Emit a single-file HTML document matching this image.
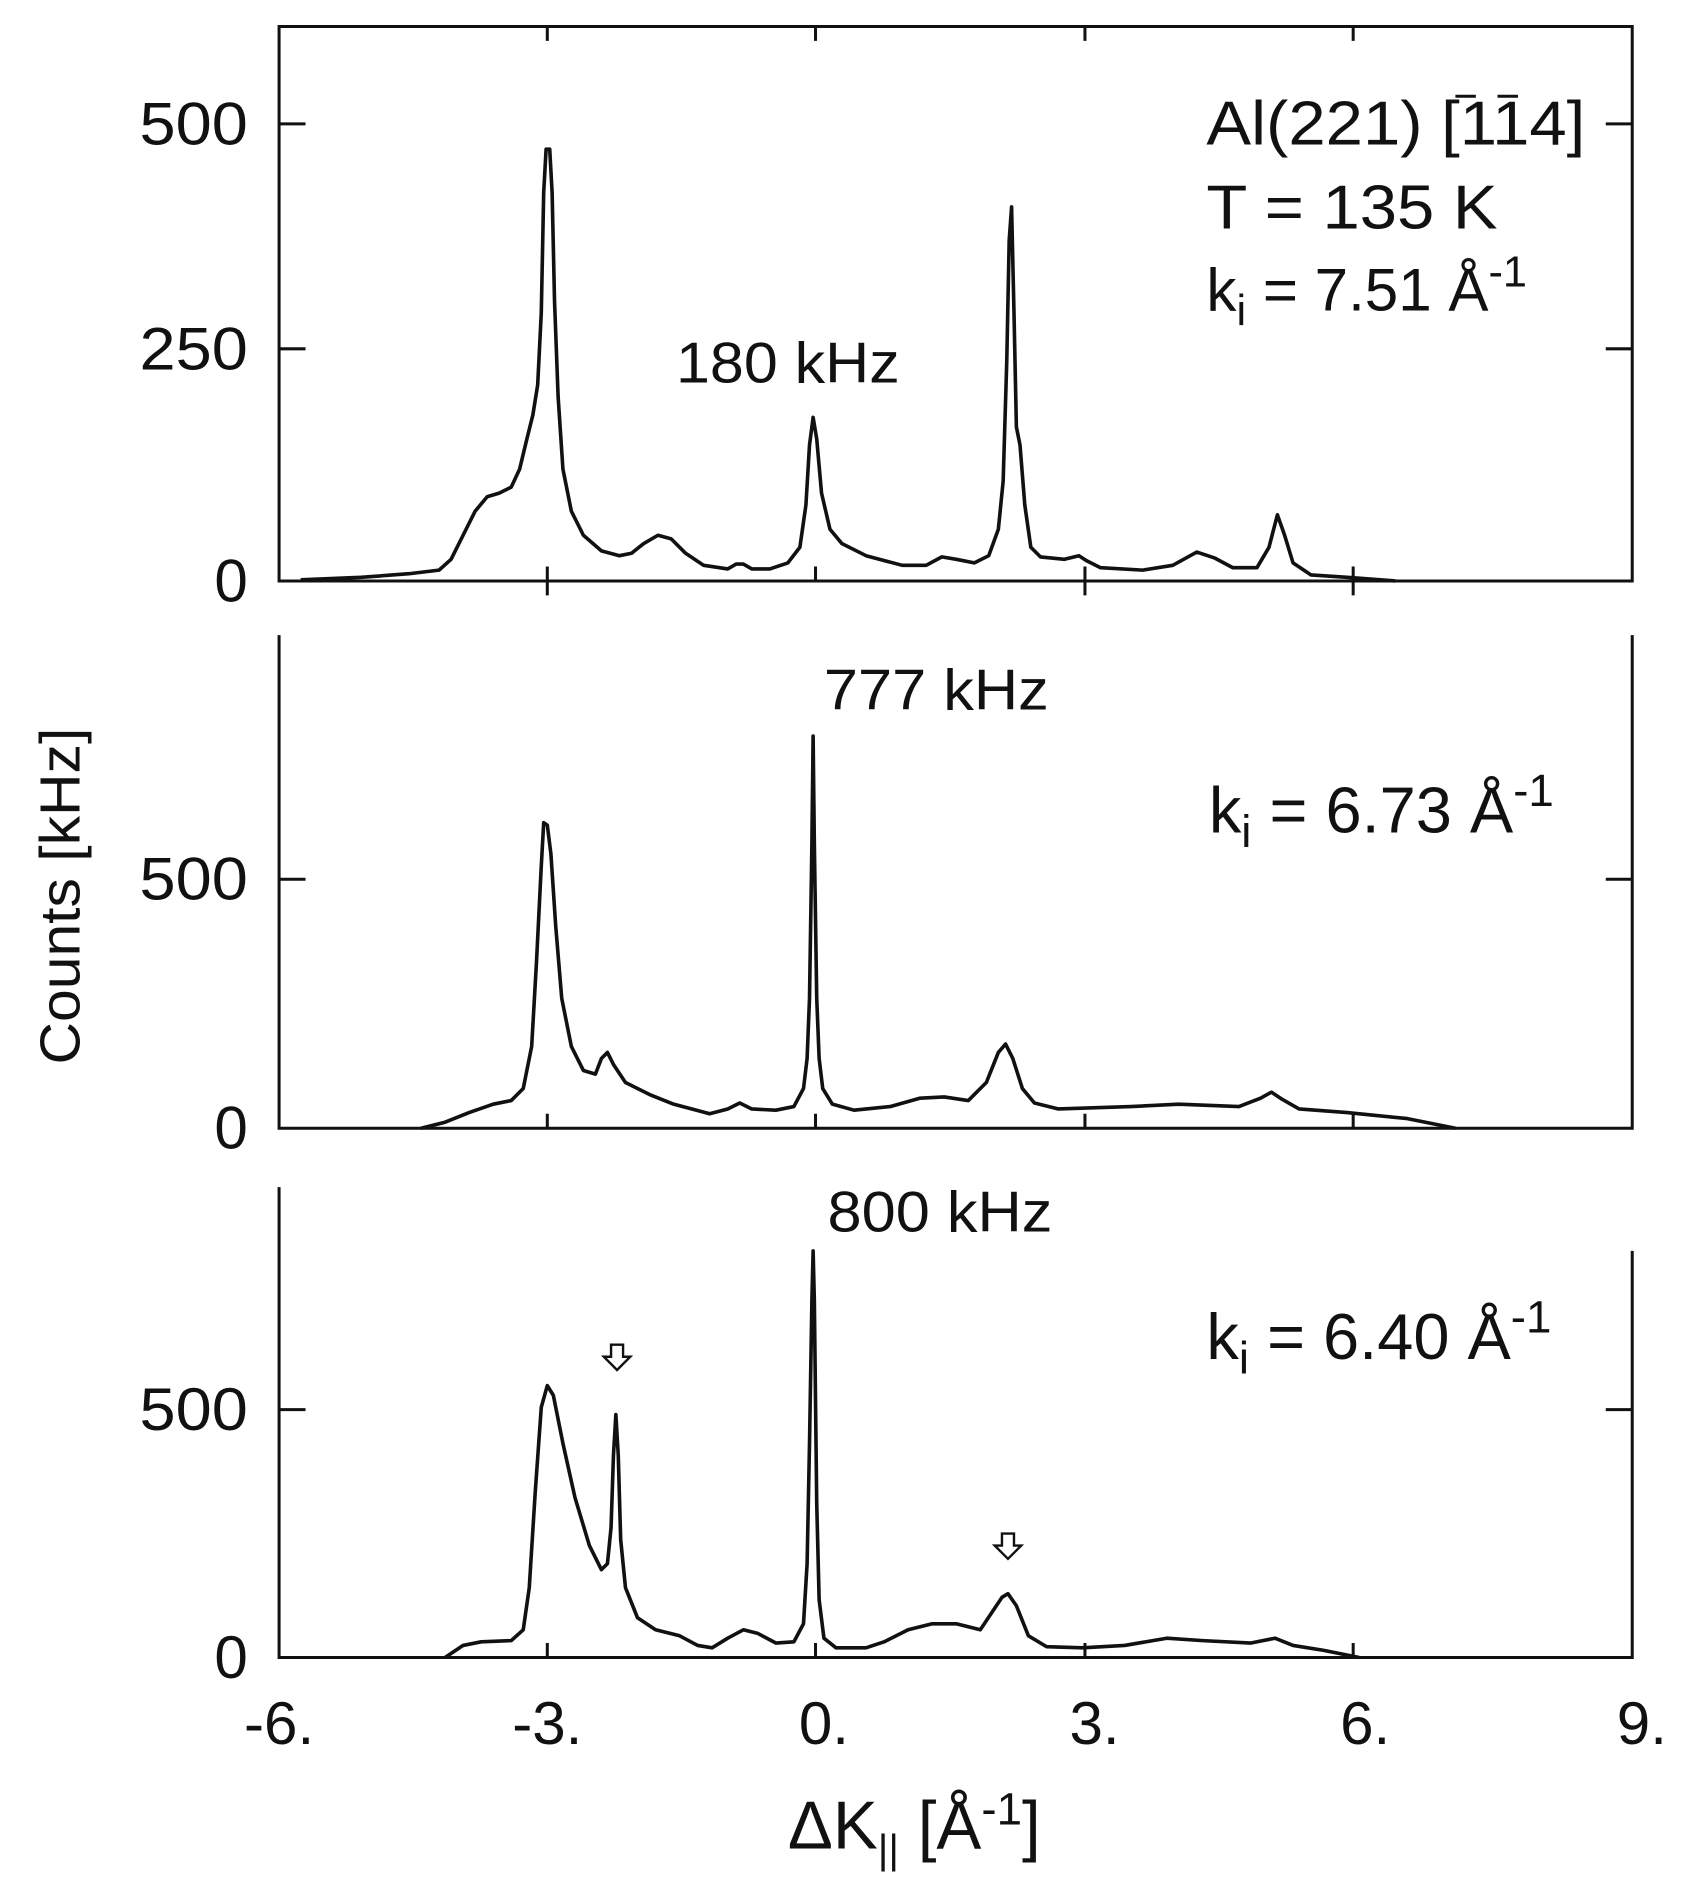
<!DOCTYPE html>
<html><head><meta charset="utf-8"><style>html,body{margin:0;padding:0;background:#fff}svg{display:block}text{font-family:"Liberation Sans",Arial,sans-serif;fill:#111}</style></head>
<body>
<svg width="1696" height="1889" viewBox="0 0 1410 1570.5" xmlns="http://www.w3.org/2000/svg">
<g stroke="#111" stroke-width="2.5" fill="none">
<path d="M232 22 H1357 V483 H232 Z"/>
<path d="M232 528 V938 H1357 V528"/>
<path d="M232 987 V1378 H1357 V1040"/>
<path d="M455 22v12M678 22v12M902 22v12M1125 22v12"/>
<path d="M455 483v12M902 483v12M1125 483v12M455 483v-12M678 483v-12M902 483v-12M1125 483v-12"/>
<path d="M455 938v-12M678 938v-12M902 938v-12M1125 938v-12"/>
<path d="M455 1378v-12M678 1378v-12M902 1378v-12M1125 1378v-12"/>
<path d="M232 103h22M232 290h22M1357 290h-22M1357 103h-22"/>
<path d="M232 731h22M1357 731h-22"/>
<path d="M232 1172h22M1357 1172h-22"/>
</g>
<g stroke="#111" stroke-width="3" fill="none" stroke-linejoin="round">
<path d="M250 482 L300 480 L340 477 L365 474 L375 465 L385 445 L395 425 L405 413 L415 410 L425 405 L432 390 L438 365 L443 345 L447 320 L450 260 L452 160 L454 124 L457 124 L459 160 L461 250 L464 330 L468 390 L475 425 L485 445 L500 458 L515 462 L525 460 L535 452 L547 445 L558 448 L570 460 L585 470 L605 473 L612 469 L618 469 L625 473 L640 473 L655 468 L665 455 L670 420 L673 370 L676 347 L679 365 L683 410 L690 440 L700 452 L720 462 L750 470 L770 470 L783 463 L795 465 L810 468 L822 462 L830 440 L834 400 L837 300 L839 200 L841 172 L843 260 L845 355 L848 370 L852 420 L857 455 L865 463 L885 465 L897 462 L903 466 L915 472 L950 474 L975 470 L995 459 L1010 464 L1025 472 L1045 472 L1055 455 L1062 428 L1068 445 L1075 468 L1090 478 L1120 480 L1160 483"/>
<path d="M350 938 L370 933 L390 925 L410 918 L425 915 L435 905 L442 870 L446 800 L450 720 L452 684 L455 686 L458 710 L462 770 L467 830 L475 870 L485 890 L495 893 L500 880 L505 875 L510 885 L520 900 L540 910 L560 918 L590 926 L605 922 L615 917 L625 922 L645 923 L660 920 L668 905 L671 880 L673 830 L675 700 L676 612 L677 700 L679 830 L681 880 L684 905 L692 918 L710 923 L740 920 L765 913 L785 912 L805 915 L820 900 L830 875 L836 868 L842 880 L850 905 L860 917 L880 922 L940 920 L980 918 L1030 920 L1048 913 L1057 908 L1066 914 L1080 922 L1120 925 L1170 930 L1210 938"/>
<path d="M370 1378 L385 1368 L400 1365 L425 1364 L435 1355 L440 1320 L445 1240 L450 1170 L455 1152 L460 1160 L468 1200 L478 1245 L490 1285 L500 1305 L505 1300 L508 1270 L510 1210 L512 1176 L514 1210 L516 1280 L520 1320 L530 1345 L545 1355 L565 1360 L580 1368 L592 1370 L605 1362 L618 1355 L630 1358 L645 1366 L660 1365 L668 1350 L671 1300 L673 1200 L675 1080 L676 1040 L677 1080 L679 1250 L681 1330 L685 1362 L695 1370 L720 1370 L735 1365 L755 1355 L775 1350 L795 1350 L815 1355 L825 1340 L833 1328 L838 1325 L845 1335 L855 1360 L870 1369 L900 1370 L935 1368 L970 1362 L1000 1364 L1040 1366 L1060 1362 L1075 1368 L1100 1372 L1130 1378"/>
</g>
<g stroke="#111" stroke-width="2" fill="#fff">
<path d="M508 1118h10v10h6l-11 11l-11-11h6z"/>
<path d="M833 1275h10v10h6l-11 11l-11-11h6z"/>
</g>
<g font-size="50" text-anchor="end">
<text x="206" y="120" textLength="90" lengthAdjust="spacingAndGlyphs">500</text><text x="206" y="307" textLength="90" lengthAdjust="spacingAndGlyphs">250</text><text x="206" y="500">0</text>
<text x="206" y="748" textLength="90" lengthAdjust="spacingAndGlyphs">500</text><text x="206" y="955">0</text>
<text x="206" y="1189" textLength="90" lengthAdjust="spacingAndGlyphs">500</text><text x="206" y="1395">0</text>
</g>
<g font-size="50" text-anchor="middle">
<text x="232" y="1450">-6.</text><text x="455" y="1450">-3.</text><text x="685" y="1450">0.</text>
<text x="910" y="1450">3.</text><text x="1135" y="1450">6.</text><text x="1365" y="1450">9.</text>
</g>
<text font-size="47" x="0" y="0" text-anchor="middle" textLength="280" lengthAdjust="spacingAndGlyphs" transform="translate(66 745) rotate(-90)">Counts [kHz]</text>
<text font-size="56" x="655" y="1537">ΔK<tspan font-size="34" dy="12">||</tspan><tspan dy="-12"> [Å</tspan><tspan font-size="38" dy="-20">-1</tspan><tspan dy="20">]</tspan></text>
<g font-size="48">
<text x="562" y="318" textLength="186" lengthAdjust="spacingAndGlyphs">180 kHz</text>
<text x="685" y="590" textLength="187" lengthAdjust="spacingAndGlyphs">777 kHz</text>
<text x="688" y="1024" textLength="187" lengthAdjust="spacingAndGlyphs">800 kHz</text>
<text x="1003" y="120" font-size="52" textLength="315" lengthAdjust="spacingAndGlyphs">Al(221) [114]</text>
<text x="1003" y="190" font-size="52" textLength="242" lengthAdjust="spacingAndGlyphs">T = 135 K</text>
<text x="1003" y="258" font-size="50">k<tspan font-size="36" dy="12">i</tspan><tspan dy="-12"> =  7.51 Å</tspan><tspan font-size="36" dy="-20">-1</tspan></text>
<text font-size="54" x="1005" y="692">k<tspan font-size="38" dy="12">i</tspan><tspan dy="-12"> = 6.73 Å</tspan><tspan font-size="38" dy="-22">-1</tspan></text>
<text font-size="54" x="1003" y="1130">k<tspan font-size="38" dy="12">i</tspan><tspan dy="-12"> = 6.40 Å</tspan><tspan font-size="38" dy="-22">-1</tspan></text>
</g>
<path d="M1210 80h17M1245 80h17" stroke="#111" stroke-width="2.5"/>
</svg>
</body></html>
